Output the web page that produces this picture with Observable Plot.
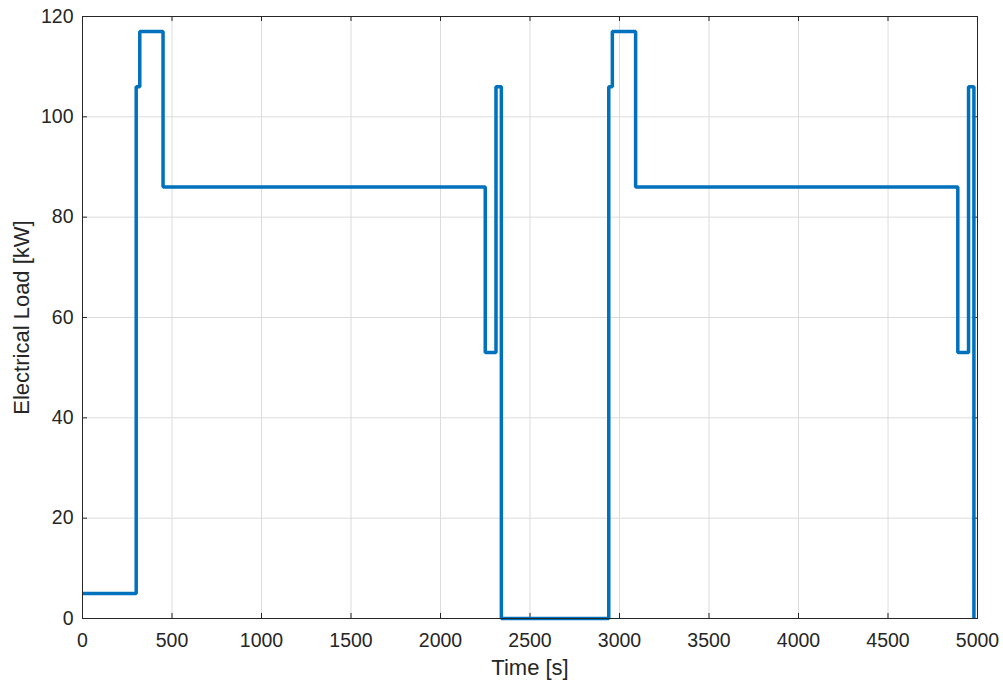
<!DOCTYPE html>
<html>
<head>
<meta charset="utf-8">
<script src="https://cdn.jsdelivr.net/npm/d3@7"></script>
<script src="https://cdn.jsdelivr.net/npm/@observablehq/plot@0.6"></script>
<style>
  html, body { margin: 0; padding: 0; background: #fff; }
  #chart { width: 1003px; height: 680px; }
</style>
</head>
<body>
<div id="chart"></div>
<script>
// Step profile: time [s] at which each level starts, and the load [kW]
const times = [0, 300, 320, 450, 2250, 2310, 2340, 2940, 2960, 3090, 4890, 4950, 4980];
const loads = [5, 106, 117, 86, 53, 106, 0, 106, 117, 86, 53, 106, 0];

const xTicks = [0, 500, 1000, 1500, 2000, 2500, 3000, 3500, 4000, 4500, 5000];
const yTicks = [0, 20, 40, 60, 80, 100, 120];

const data = times.map((t, i) => ({t, load: loads[i]}));
const ink = "#262626";
const fs = 19.5;
const lfs = 22;

const chart = Plot.plot({
  width: 1003,
  height: 680,
  marginLeft: 82,
  marginRight: 26,
  marginTop: 16,
  marginBottom: 62,
  style: {fontFamily: "'Liberation Sans', Arial, sans-serif", fontSize: fs + "px", color: ink, background: "#fff"},
  x: {domain: [0, 5000]},
  y: {domain: [0, 120]},
  marks: [
    Plot.gridX(xTicks, {stroke: "#dcdcdc", strokeOpacity: 1, strokeWidth: 1}),
    Plot.gridY(yTicks, {stroke: "#dcdcdc", strokeOpacity: 1, strokeWidth: 1}),
    // inward ticks on all four sides
    Plot.ruleX(xTicks, {x: d => d, y1: 0, y2: 1, stroke: ink}),
    Plot.ruleX(xTicks, {x: d => d, y1: 119, y2: 120, stroke: ink}),
    Plot.ruleY(yTicks, {y: d => d, x1: 0, x2: 28, stroke: ink}),
    Plot.ruleY(yTicks, {y: d => d, x1: 4972, x2: 5000, stroke: ink}),
    Plot.axisX(xTicks, {tickSize: 0, tickPadding: 15, tickFormat: d => String(d), fontSize: fs, label: null, fill: ink}),
    Plot.axisX({label: "Time [s]", ticks: [], tickSize: 0, fontSize: lfs, labelAnchor: "center", labelArrow: "none", labelOffset: 56, fill: ink}),
    Plot.axisY(yTicks, {tickSize: 0, tickPadding: 9, tickFormat: d => String(d), fontSize: fs, label: null, fill: ink}),
    Plot.axisY({label: "Electrical Load [kW]", ticks: [], tickSize: 0, fontSize: lfs, labelAnchor: "center", labelArrow: "none", labelOffset: 69, fill: ink}),
    Plot.line(data, {x: "t", y: "load", curve: "step-after", stroke: "#0072BD", strokeWidth: 3.5, strokeLinejoin: "miter", strokeLinecap: "butt"}),
    Plot.frame({stroke: ink, strokeWidth: 1})
  ]
});
document.getElementById("chart").appendChild(chart);
</script>
</body>
</html>
